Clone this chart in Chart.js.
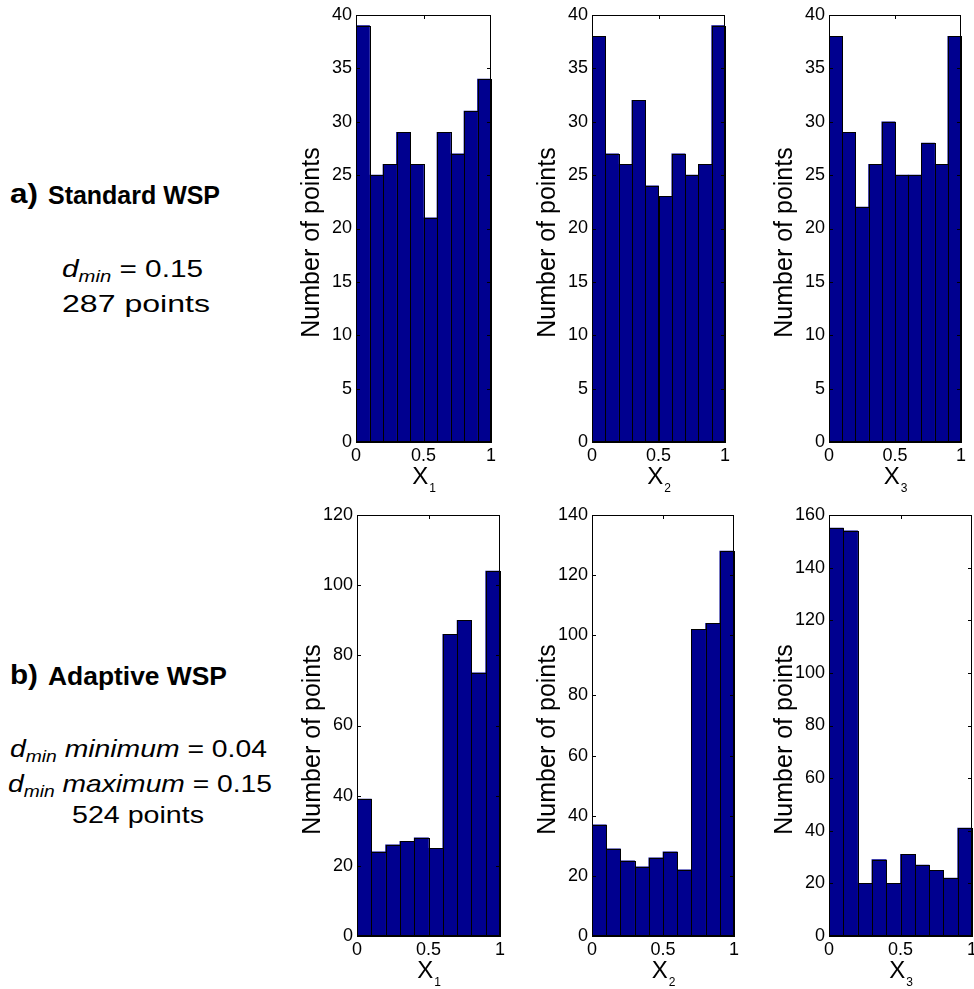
<!DOCTYPE html>
<html>
<head>
<meta charset="utf-8">
<script src="https://cdn.jsdelivr.net/npm/chart.js@4.4.0/dist/chart.umd.min.js"></script>
<style>
  body { margin: 0; background: #fff; width: 974px; height: 989px; position: relative; overflow: hidden;
         font-family: "Liberation Sans", Arial, Helvetica, sans-serif; color: #000; }
  canvas { position: absolute; }
  .txt { position: absolute; white-space: nowrap; line-height: 1; transform-origin: 0 0; }
  .b { font-weight: bold; }
  .it { font-style: italic; }
  sub { font-size: 0.68em; vertical-align: -0.28em; line-height: 0; }
</style>
</head>
<body>

<div class="txt b" data-left="10" data-base="204" data-w="28" style="font-size:27px">a)</div>
<div class="txt b" data-left="48" data-base="204" data-w="172" style="font-size:25px">Standard WSP</div>
<div class="txt" data-left="62" data-base="277" data-w="141" style="font-size:24px"><span class="it">d</span><sub class="it">min</sub> = 0.15</div>
<div class="txt" data-left="62" data-base="312" data-w="148" style="font-size:24px">287 points</div>

<div class="txt b" data-left="10" data-base="685" data-w="28" style="font-size:27px">b)</div>
<div class="txt b" data-left="48" data-base="685" data-w="179" style="font-size:25px">Adaptive WSP</div>
<div class="txt" data-left="10" data-base="757" data-w="257" style="font-size:24px"><span class="it">d</span><sub class="it">min</sub> <span class="it">minimum</span> = 0.04</div>
<div class="txt" data-left="8" data-base="792" data-w="264" style="font-size:24px"><span class="it">d</span><sub class="it">min</sub> <span class="it">maximum</span> = 0.15</div>
<div class="txt" data-left="72" data-base="823" data-w="132" style="font-size:24px">524 points</div>

<canvas id="h1"></canvas>
<canvas id="h2"></canvas>
<canvas id="h3"></canvas>
<canvas id="h4"></canvas>
<canvas id="h5"></canvas>
<canvas id="h6"></canvas>

<script>
// centros de las 10 clases del histograma
const binCenters = [0.05, 0.15, 0.25, 0.35, 0.45, 0.55, 0.65, 0.75, 0.85, 0.95];
const xTickValues = [0, 0.5, 1];

// a) Standard WSP, 287 puntos
const standardX1 = [39, 25, 26, 29, 26, 21, 29, 27, 31, 34];
const standardX2 = [38, 27, 26, 32, 24, 23, 27, 25, 26, 39];
const standardX3 = [38, 29, 22, 26, 30, 25, 25, 28, 26, 38];

// b) Adaptive WSP, 524 puntos
const adaptiveX1 = [39, 24, 26, 27, 28, 25, 86, 90, 75, 104];
const adaptiveX2 = [37, 29, 25, 23, 26, 28, 22, 102, 104, 128];
const adaptiveX3 = [155, 154, 20, 29, 20, 31, 27, 25, 22, 41];

const yTitle = 'Number of points';
const xTitle = 'X';

const FONT = '"Liberation Sans", Arial, Helvetica, sans-serif';
const barFill = '#00008F';

// caja de cada eje: ancho del eje y, margen arriba, margen derecha, alto del eje x
const YW = 80, PT = 14, PR = 12, XH = 64;

const panels = [
  { id: 'h1', counts: standardX1, sub: '1', yMax: 40,  yStep: 5,  plot: [356, 15, 135, 427] },
  { id: 'h2', counts: standardX2, sub: '2', yMax: 40,  yStep: 5,  plot: [592, 15, 133, 427] },
  { id: 'h3', counts: standardX3, sub: '3', yMax: 40,  yStep: 5,  plot: [829, 15, 132, 427] },
  { id: 'h4', counts: adaptiveX1, sub: '1', yMax: 120, yStep: 20, plot: [357, 515, 143, 421] },
  { id: 'h5', counts: adaptiveX2, sub: '2', yMax: 140, yStep: 20, plot: [592, 515, 142, 421] },
  { id: 'h6', counts: adaptiveX3, sub: '3', yMax: 160, yStep: 20, plot: [829, 515, 143, 421] }
];

// marco estilo MATLAB: contorno nitido de barras, caja cerrada, marcas hacia dentro, titulos
const matlabFrame = {
  id: 'matlabFrame',
  afterDatasetsDraw(chart) {
    const { ctx } = chart;
    ctx.save();
    ctx.strokeStyle = '#000';
    ctx.lineWidth = 1;
    chart.getDatasetMeta(0).data.forEach(bar => {
      const { x, y, base, width } = bar.getProps(['x', 'y', 'base', 'width'], true);
      const l = Math.round(x - width / 2), r = Math.round(x + width / 2);
      const t = Math.round(y), b = Math.round(base);
      ctx.strokeRect(l + 0.5, t + 0.5, r - l, b - t);
    });
    ctx.restore();
  },
  afterDraw(chart, args, opts) {
    const { ctx, chartArea: a, scales } = chart;
    ctx.save();
    ctx.strokeStyle = '#000';
    ctx.lineWidth = 1;
    ctx.strokeRect(a.left + 0.5, a.top + 0.5, a.right - a.left - 1, a.bottom - a.top - 1);

    ctx.beginPath();
    scales.x.ticks.forEach(t => {
      const px = Math.round(scales.x.getPixelForValue(t.value)) + 0.5;
      if (px <= a.left + 2 || px >= a.right - 2) return;
      ctx.moveTo(px, a.bottom); ctx.lineTo(px, a.bottom - 4);
      ctx.moveTo(px, a.top); ctx.lineTo(px, a.top + 4);
    });
    scales.y.ticks.forEach(t => {
      const py = Math.round(scales.y.getPixelForValue(t.value)) + 0.5;
      if (py <= a.top + 2 || py >= a.bottom - 2) return;
      ctx.moveTo(a.left, py); ctx.lineTo(a.left + 4, py);
      ctx.moveTo(a.right, py); ctx.lineTo(a.right - 4, py);
    });
    ctx.stroke();

    ctx.fillStyle = '#000';
    // titulo eje y (rotado)
    ctx.save();
    ctx.translate(a.left - 44, (a.top + a.bottom) / 2 + 14);
    ctx.rotate(-Math.PI / 2);
    ctx.textAlign = 'center';
    ctx.textBaseline = 'middle';
    ctx.font = '25px ' + FONT;
    ctx.fillText(yTitle, 0, 0);
    ctx.restore();

    // titulo eje x con subindice
    const cx = (a.left + a.right) / 2;
    const base = a.bottom + 42;
    ctx.font = '24px ' + FONT;
    const wX = ctx.measureText(xTitle).width;
    ctx.font = '12px ' + FONT;
    const wS = ctx.measureText(opts.sub).width;
    const start = cx - (wX + wS) / 2;
    ctx.textAlign = 'left';
    ctx.textBaseline = 'alphabetic';
    ctx.font = '24px ' + FONT;
    ctx.fillText(xTitle, start, base);
    ctx.font = '12px ' + FONT;
    ctx.fillText(opts.sub, start + wX + 1, base + 8);
    ctx.restore();
  }
};

function placeText() {
  document.querySelectorAll('.txt').forEach(el => {
    const size = parseFloat(el.style.fontSize);
    el.style.left = el.dataset.left + 'px';
    el.style.top = (parseFloat(el.dataset.base) - 0.8465 * size) + 'px';
    const w = el.getBoundingClientRect().width;
    el.style.transform = 'scaleX(' + (parseFloat(el.dataset.w) / w) + ')';
  });
}

function initHistograms() {
  panels.forEach(p => {
    const [x, y, w, h] = p.plot;
    const canvas = document.getElementById(p.id);
    canvas.width = YW + w + PR;
    canvas.height = PT + h + XH;
    canvas.style.left = (x - YW) + 'px';
    canvas.style.top = (y - PT) + 'px';

    new Chart(canvas, {
      type: 'bar',
      data: {
        datasets: [{
          data: binCenters.map((c, i) => ({ x: c, y: p.counts[i] })),
          backgroundColor: barFill,
          borderWidth: 0,
          barPercentage: 1,
          categoryPercentage: 1
        }]
      },
      options: {
        responsive: false,
        animation: false,
        devicePixelRatio: 1,
        layout: { padding: { left: 0, top: PT, right: PR, bottom: 0 } },
        plugins: {
          legend: { display: false },
          tooltip: { enabled: false },
          matlabFrame: { sub: p.sub }
        },
        scales: {
          x: {
            type: 'linear',
            min: 0,
            max: 1,
            offset: false,
            grid: { display: false, drawTicks: false },
            border: { display: false },
            afterBuildTicks: s => { s.ticks = xTickValues.map(v => ({ value: v })); },
            ticks: {
              font: { family: FONT, size: 18 },
              color: '#000',
              padding: 3,
              maxRotation: 0,
              autoSkip: false,
              callback: v => String(v)
            },
            afterFit: s => { s.height = XH; s.paddingLeft = 0; s.paddingRight = 0; }
          },
          y: {
            type: 'linear',
            min: 0,
            max: p.yMax,
            grid: { display: false, drawTicks: false },
            border: { display: false },
            ticks: {
              stepSize: p.yStep,
              font: { family: FONT, size: 18 },
              color: '#000',
              padding: 4
            },
            afterFit: s => { s.width = YW; s.paddingTop = 0; s.paddingBottom = 0; }
          }
        }
      },
      plugins: [matlabFrame]
    });
  });
}

document.addEventListener('DOMContentLoaded', function() {
  placeText();
  initHistograms();
});
</script>
</body>
</html>
